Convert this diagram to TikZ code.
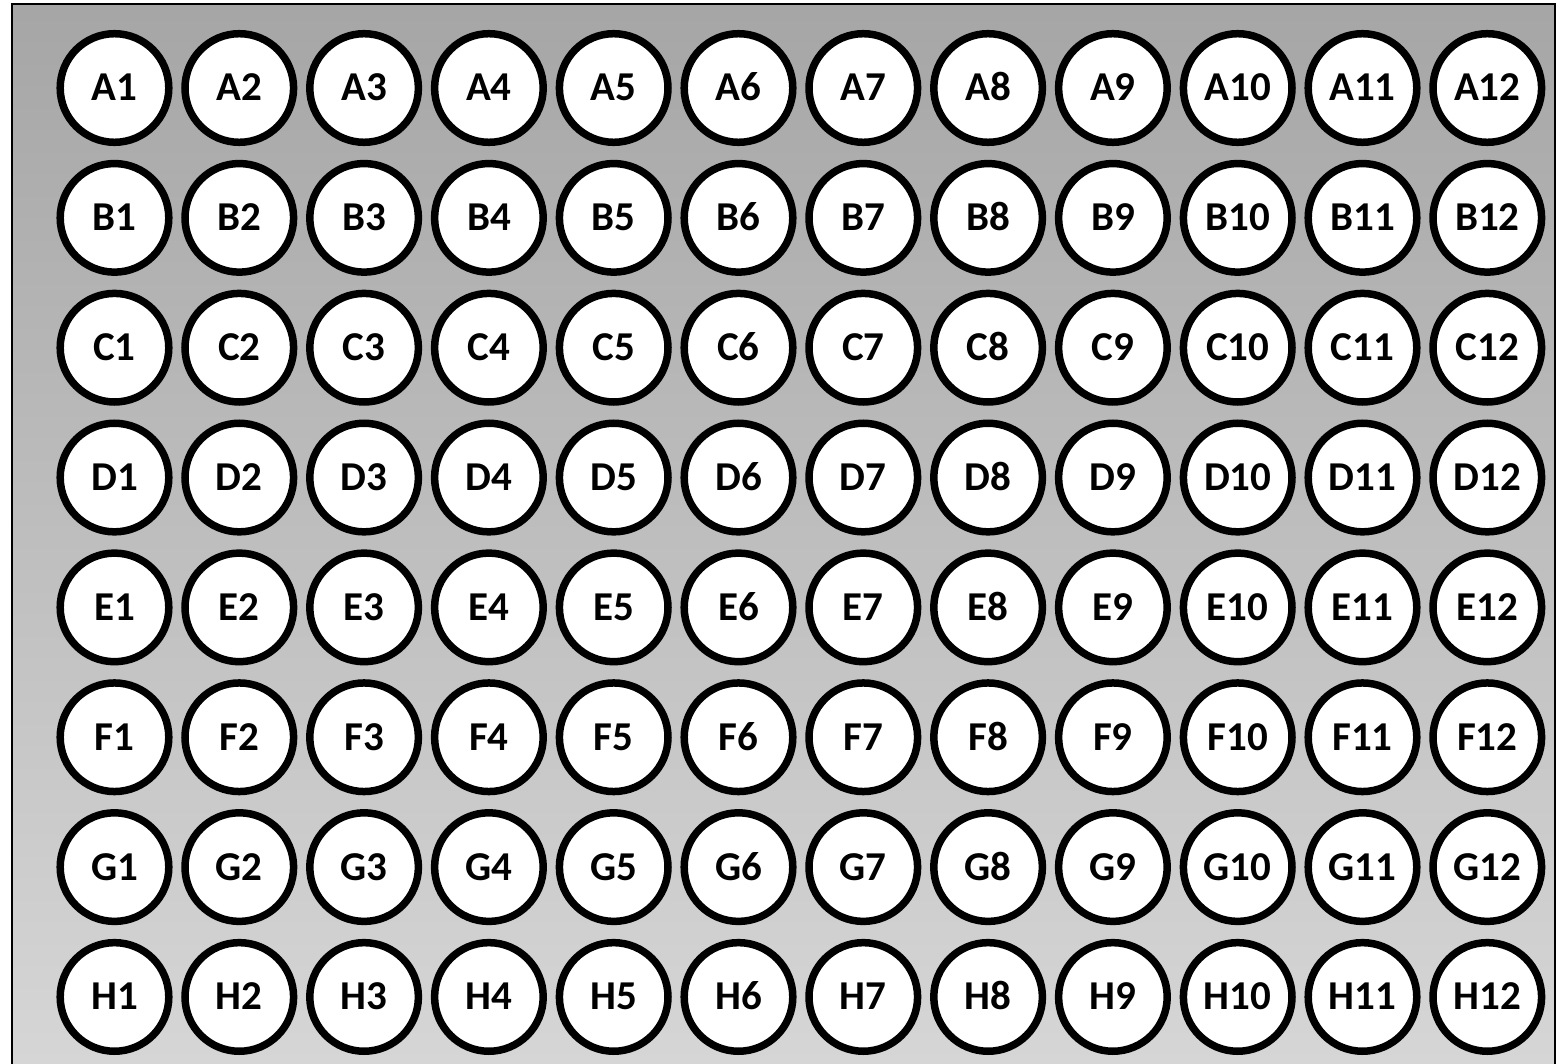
\documentclass[tikz,border=0pt]{standalone}
\usepackage{fontspec}
\setmainfont{Carlito}

\begin{document}
\begin{tikzpicture}[
  x=0.5pt, y=-0.5pt,
  well/.style={circle, draw, fill=white, line width=3.75pt, minimum size=54.3pt, inner sep=0pt,
    text height=13pt, text depth=0pt, font=\bfseries\fontsize{20.5}{20.5}\selectfont},
  plate/.style={line width=1.25pt}
]
\useasboundingbox (0,0) rectangle (1565,1064);

% plate
\shade[top color=black!35, bottom color=black!16] (12,4) rectangle (1555,1070);
\draw[plate] (12,1070) -- (12,4) -- (1555,4) -- (1555,1070);

% wells
\foreach \row [count=\r from 0] in {A,...,H}
  \foreach \col in {1,...,12}
    \node[well] (\row\col) at ({114.5+124.8*(\col-1)}, {88+129.85*\r}) {\row\col};
\end{tikzpicture}
\end{document}
